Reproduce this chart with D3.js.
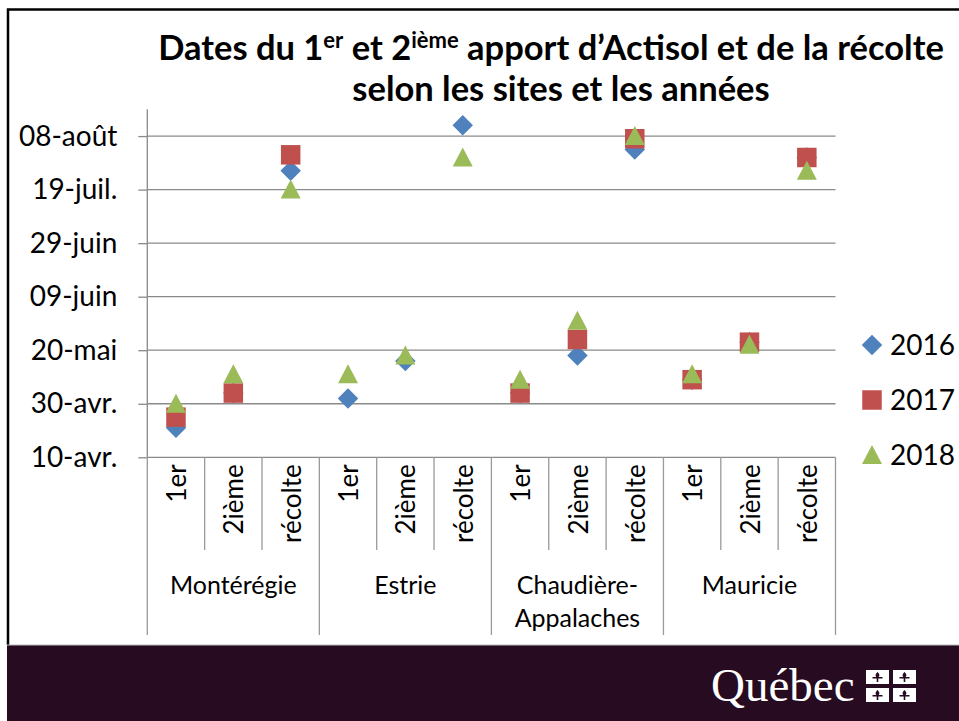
<!DOCTYPE html>
<html>
<head>
<meta charset="utf-8">
<script src="https://cdn.jsdelivr.net/npm/d3@7"></script>
<style>
  body { margin: 0; background: #fff; }
  svg { display: block; font-family: Lato, "Open Sans", sans-serif; }
</style>
</head>
<body>
<div id="chart"></div>
<script>
// Data
const sites = ["Montérégie", "Estrie", "Chaudière-|Appalaches", "Mauricie"]
const stages = ["1er", "2ième", "récolte"]
const years = ["2016", "2017", "2018"]
// dates (mois-jour), one per site x stage, same order as above
const dates2016 = ["04-21", "05-04", "07-26", "05-02", "05-16", "08-12", "05-04", "05-18", "08-03", "05-09", "05-23", "07-31"]
const dates2017 = ["04-25", "05-04", "08-01", null, null, null, "05-04", "05-24", "08-07", "05-09", "05-23", "07-31"]
const dates2018 = ["04-30", "05-11", "07-19", "05-11", "05-18", "07-31", "05-09", "05-31", "08-08", "05-11", "05-22", "07-26"]
const yTicks = ["04-10", "04-30", "05-20", "06-09", "06-29", "07-19", "08-08"]
const yDomain = ["04-10", "08-18"]

// marker shapes (Excel style: diamond, square, triangle in a ~20px box)
const diamond = { draw(ctx, size) { const r = Math.sqrt(size) / 2; ctx.moveTo(0, -r); ctx.lineTo(r, 0); ctx.lineTo(0, r); ctx.lineTo(-r, 0); ctx.closePath() } }
const square = { draw(ctx, size) { const r = Math.sqrt(size) / 2; ctx.rect(-r, -r, 2 * r, 2 * r) } }
const triangle = { draw(ctx, size) { const r = Math.sqrt(size) / 2; ctx.moveTo(0, -r); ctx.lineTo(r, r * 0.9); ctx.lineTo(-r, r * 0.9); ctx.closePath() } }

function draw() {
  const parseDate = d3.timeParse("%Y-%m-%d")
  const toDate = s => parseDate("2016-" + s)

  const fr = d3.timeFormatLocale({
    dateTime: "%A %e %B %Y à %X", date: "%d/%m/%Y", time: "%H:%M:%S",
    periods: ["AM", "PM"],
    days: ["dimanche", "lundi", "mardi", "mercredi", "jeudi", "vendredi", "samedi"],
    shortDays: ["dim.", "lun.", "mar.", "mer.", "jeu.", "ven.", "sam."],
    months: ["janvier", "février", "mars", "avril", "mai", "juin", "juillet", "août", "septembre", "octobre", "novembre", "décembre"],
    shortMonths: ["janv.", "févr.", "mars", "avr.", "mai", "juin", "juil.", "août", "sept.", "oct.", "nov.", "déc."]
  })
  const tickFormat = fr.format("%d-%b")

  const categories = []
  sites.forEach((s, i) => stages.forEach((st, j) => categories.push({ site: i, stage: st, idx: i * 3 + j })))

  const series = [
    { year: years[0], values: dates2016, color: "#4F81BD", shape: diamond, size: 420 },
    { year: years[1], values: dates2017, color: "#C0504D", shape: square, size: 380 },
    { year: years[2], values: dates2018, color: "#9BBB59", shape: triangle, size: 400 }
  ]

  // Dimensions
  let dimensions = {
    width: 959,
    height: 721,
    left: 147.3,
    right: 835.5,
    top: 109.3,
    bottom: 457.3,
    subBottom: 550,
    groupBottom: 635,
    footerTop: 645
  }

  const svg = d3.select('#chart')
    .append('svg')
    .attr('width', dimensions.width)
    .attr('height', dimensions.height)

  // frame
  svg.append('path')
    .attr('d', `M8,${dimensions.footerTop} V9.5 H${dimensions.width}`)
    .attr('fill', 'none')
    .attr('stroke', '#000')
    .attr('stroke-width', 2.5)

  // Scales
  const xScale = d3.scaleBand()
    .domain(d3.range(categories.length))
    .range([dimensions.left, dimensions.right])
  const yScale = d3.scaleTime()
    .domain(yDomain.map(toDate))
    .range([dimensions.bottom, dimensions.top])

  // gridlines
  const grid = svg.append('g')
  grid.selectAll('line')
    .data(yTicks.slice(1))
    .join('line')
    .attr('x1', dimensions.left)
    .attr('x2', dimensions.right)
    .attr('y1', d => yScale(toDate(d)))
    .attr('y2', d => yScale(toDate(d)))
    .attr('stroke', '#8a8a8a')
    .attr('stroke-width', 1.3)

  // y axis
  const yAxis = d3.axisLeft(yScale)
    .tickValues(yTicks.map(toDate))
    .tickFormat(tickFormat)
    .tickSizeOuter(0)
    .tickSize(9)
    .tickPadding(21)
  const yAxisGroup = svg.append('g')
    .attr('transform', `translate(${dimensions.left},0)`)
    .call(yAxis)
  yAxisGroup.select('.domain').attr('stroke', '#8a8a8a').attr('stroke-width', 1.3)
    .attr('d', `M0,${dimensions.top}V${dimensions.bottom}`)
  yAxisGroup.selectAll('.tick line').attr('stroke', '#8a8a8a').attr('stroke-width', 1.3)
  yAxisGroup.selectAll('.tick text')
    .attr('font-family', 'Lato, sans-serif')
    .attr('font-size', 28)
    .attr('fill', '#000')

  // x axis (multi-level)
  const xAxisGroup = svg.append('g')
  xAxisGroup.append('line')
    .attr('x1', dimensions.left).attr('x2', dimensions.right)
    .attr('y1', dimensions.bottom).attr('y2', dimensions.bottom)
    .attr('stroke', '#8a8a8a').attr('stroke-width', 1.3)
  const bounds = d3.range(categories.length + 1)
  xAxisGroup.selectAll('line.div')
    .data(bounds)
    .join('line')
    .attr('class', 'div')
    .attr('x1', i => i < categories.length ? xScale(i) : xScale(i - 1) + xScale.bandwidth())
    .attr('x2', i => i < categories.length ? xScale(i) : xScale(i - 1) + xScale.bandwidth())
    .attr('y1', dimensions.bottom)
    .attr('y2', i => i % 3 === 0 ? dimensions.groupBottom : dimensions.subBottom)
    .attr('stroke', '#9a9a9a')
    .attr('stroke-width', 1.3)

  xAxisGroup.selectAll('text.stage')
    .data(categories)
    .join('text')
    .attr('class', 'stage')
    .attr('transform', d => `translate(${xScale(d.idx) + xScale.bandwidth() / 2 + 1},${dimensions.bottom + 7}) rotate(-90)`)
    .attr('text-anchor', 'end')
    .attr('dy', '0.35em')
    .attr('font-size', 26)
    .text(d => d.stage)

  xAxisGroup.selectAll('text.site')
    .data(sites)
    .join('text')
    .attr('class', 'site')
    .attr('x', (d, i) => xScale(i * 3) + xScale.bandwidth() * 1.5)
    .attr('y', 594)
    .attr('text-anchor', 'middle')
    .attr('font-size', 25)
    .selectAll('tspan')
    .data(d => d.split('|'))
    .join('tspan')
    .attr('x', function () { return this.parentNode.getAttribute('x') })
    .attr('dy', (d, i) => i === 0 ? 0 : 33)
    .text(d => d)

  // markers
  series.forEach(s => {
    svg.append('g')
      .selectAll('path')
      .data(s.values.map((v, i) => ({ v, i })).filter(d => d.v !== null))
      .join('path')
      .attr('transform', d => `translate(${xScale(d.i) + xScale.bandwidth() / 2},${yScale(toDate(d.v))})`)
      .attr('d', d3.symbol().type(s.shape).size(s.size))
      .attr('fill', s.color)
  })

  // legend
  const legend = svg.append('g')
  series.forEach((s, i) => {
    const ly = 345 + i * 55
    legend.append('path')
      .attr('transform', `translate(872,${ly})`)
      .attr('d', d3.symbol().type(s.shape).size(s.size))
      .attr('fill', s.color)
    legend.append('text')
      .attr('x', 890)
      .attr('y', ly)
      .attr('dy', '0.35em')
      .attr('font-size', 28)
      .text(s.year)
  })

  // title
  const title = svg.append('g').attr('font-weight', 'bold').attr('text-anchor', 'middle')
  const t1 = title.append('text').attr('x', 551).attr('y', 60).attr('font-size', 34.5)
  t1.append('tspan').text('Dates du 1')
  t1.append('tspan').attr('dy', -12).attr('font-size', 22).text('er')
  t1.append('tspan').attr('dy', 12).text(' et 2')
  t1.append('tspan').attr('dy', -12).attr('font-size', 22).text('ième')
  t1.append('tspan').attr('dy', 12).text(' apport d’Actisol et de la récolte')
  title.append('text').attr('x', 561).attr('y', 101).attr('font-size', 34.5)
    .text('selon les sites et les années')

  // footer
  const footer = svg.append('g')
  footer.append('rect')
    .attr('x', 7).attr('y', dimensions.footerTop)
    .attr('width', dimensions.width - 7).attr('height', dimensions.height - dimensions.footerTop)
    .attr('fill', '#260b21')
  footer.append('line')
    .attr('x1', 7).attr('x2', dimensions.width)
    .attr('y1', dimensions.footerTop).attr('y2', dimensions.footerTop)
    .attr('stroke', '#bdbdbd').attr('stroke-width', 1)
  footer.append('text')
    .attr('x', 711).attr('y', 701)
    .attr('font-family', '"Liberation Serif", serif')
    .attr('font-size', 47)
    .attr('fill', '#fff')
    .text('Québec')
  const flag = footer.append('g').attr('transform', 'translate(866,670)')
  const cells = [[0, 0], [1, 0], [0, 1], [1, 1]]
  flag.selectAll('rect')
    .data(cells)
    .join('rect')
    .attr('x', d => d[0] * 27).attr('y', d => d[1] * 18)
    .attr('width', 23).attr('height', 14)
    .attr('fill', '#fff')
  flag.selectAll('path')
    .data(cells)
    .join('path')
    .attr('transform', d => `translate(${d[0] * 27 + 11.5},${d[1] * 18 + 7})`)
    .attr('d', 'M0,-5 C2,-3 3,-1 0,1 C-3,-1 -2,-3 0,-5 Z M-5,0 L5,0 L5,1.5 L-5,1.5 Z M-0.8,1 L0.8,1 L0.8,5 L-0.8,5 Z')
    .attr('fill', '#260b21')
}

draw()
</script>
</body>
</html>
